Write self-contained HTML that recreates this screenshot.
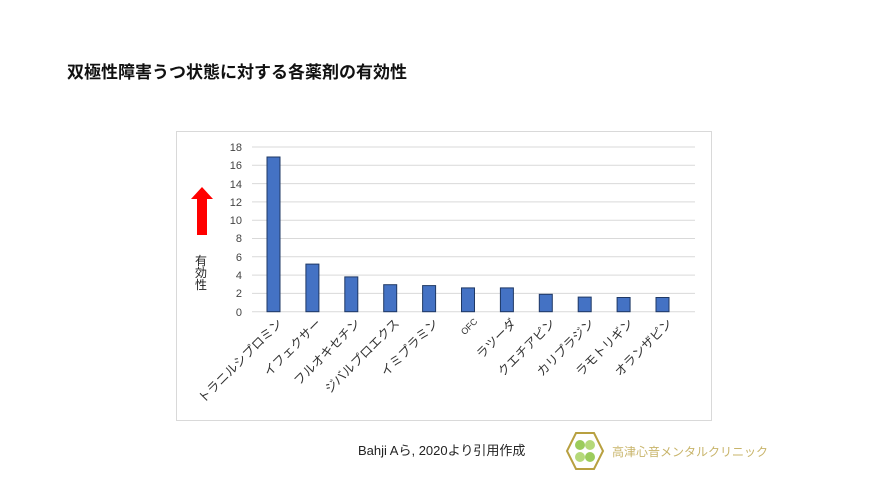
<!DOCTYPE html>
<html><head><meta charset="utf-8"><style>
body{margin:0;background:#fff;}
svg{display:block}
</style></head><body>
<svg width="886" height="498" xmlns="http://www.w3.org/2000/svg" font-family="Liberation Sans, Noto Sans CJK JP, sans-serif">
<rect width="886" height="498" fill="#fff"/>
<text x="67" y="78" font-size="17" font-weight="bold" fill="#111">双極性障害うつ状態に対する各薬剤の有効性</text>
<rect x="176.5" y="131.5" width="535" height="289" fill="#fff" stroke="#d9d9d9"/>
<g stroke="#d9d9d9" stroke-width="1">
<line x1="252" x2="695" y1="147" y2="147"/><line x1="252" x2="695" y1="165.3" y2="165.3"/>
<line x1="252" x2="695" y1="183.6" y2="183.6"/><line x1="252" x2="695" y1="201.9" y2="201.9"/>
<line x1="252" x2="695" y1="220.2" y2="220.2"/><line x1="252" x2="695" y1="238.5" y2="238.5"/>
<line x1="252" x2="695" y1="256.8" y2="256.8"/><line x1="252" x2="695" y1="275.1" y2="275.1"/>
<line x1="252" x2="695" y1="293.4" y2="293.4"/><line x1="252" x2="695" y1="311.7" y2="311.7"/>
</g>
<g font-size="11" fill="#444" text-anchor="end">
<text x="242" y="151">18</text><text x="242" y="169">16</text><text x="242" y="188">14</text>
<text x="242" y="206">12</text><text x="242" y="224">10</text><text x="242" y="242">8</text>
<text x="242" y="261">6</text><text x="242" y="279">4</text><text x="242" y="297">2</text><text x="242" y="316">0</text>
</g>
<g fill="#4472c4" stroke="#1f3864" stroke-width="1">
<rect x="267" y="157.0" width="13" height="154.7"/>
<rect x="305.9" y="264.1" width="13" height="47.6"/>
<rect x="344.8" y="276.9" width="13" height="34.8"/>
<rect x="383.7" y="284.7" width="13" height="27.0"/>
<rect x="422.6" y="285.6" width="13" height="26.1"/>
<rect x="461.5" y="287.9" width="13" height="23.8"/>
<rect x="500.4" y="287.9" width="13" height="23.8"/>
<rect x="539.3" y="294.3" width="13" height="17.4"/>
<rect x="578.2" y="297.1" width="13" height="14.6"/>
<rect x="617.1" y="297.5" width="13" height="14.2"/>
<rect x="656" y="297.5" width="13" height="14.2"/>
</g>
<g font-size="12.5" fill="#333" text-anchor="end">
<text transform="translate(283,324) rotate(-45)">トラニルシプロミン</text>
<text transform="translate(322,324) rotate(-45)">イフェクサー</text>
<text transform="translate(361,324) rotate(-45)">フルオキセチン</text>
<text transform="translate(400,324) rotate(-45)">ジバルプロエクス</text>
<text transform="translate(439,324) rotate(-45)">イミプラミン</text>
<text transform="translate(478,322) rotate(-45)" font-size="9">OFC</text>
<text transform="translate(517,324) rotate(-45)">ラツーダ</text>
<text transform="translate(556,324) rotate(-45)">クエチアピン</text>
<text transform="translate(595,324) rotate(-45)">カリプラジン</text>
<text transform="translate(634,324) rotate(-45)">ラモトリギン</text>
<text transform="translate(673,324) rotate(-45)">オランザピン</text>
</g>
<polygon points="202,187 213,199 207,199 207,235 197,235 197,199 191,199" fill="#f00"/>
<g font-size="12" fill="#222" text-anchor="middle">
<text x="201" y="265">有</text><text x="201" y="277">効</text><text x="201" y="289">性</text>
</g>
<text x="358" y="455" font-size="13" fill="#222">Bahji Aら, 2020より引用作成</text>
<polygon points="576,433 594,433 603,451 594,469 576,469 567,451" fill="#fff" stroke="#b8a040" stroke-width="2"/>
<circle cx="580" cy="445" r="5" fill="#9ccc5c"/><circle cx="590" cy="445" r="5" fill="#b5d97a"/>
<circle cx="580" cy="457" r="5" fill="#b5d97a"/><circle cx="590" cy="457" r="5" fill="#9ccc5c"/>
<text x="612" y="456" font-size="12" fill="#c8b46a">高津心音メンタルクリニック</text>
</svg>
</body></html>
